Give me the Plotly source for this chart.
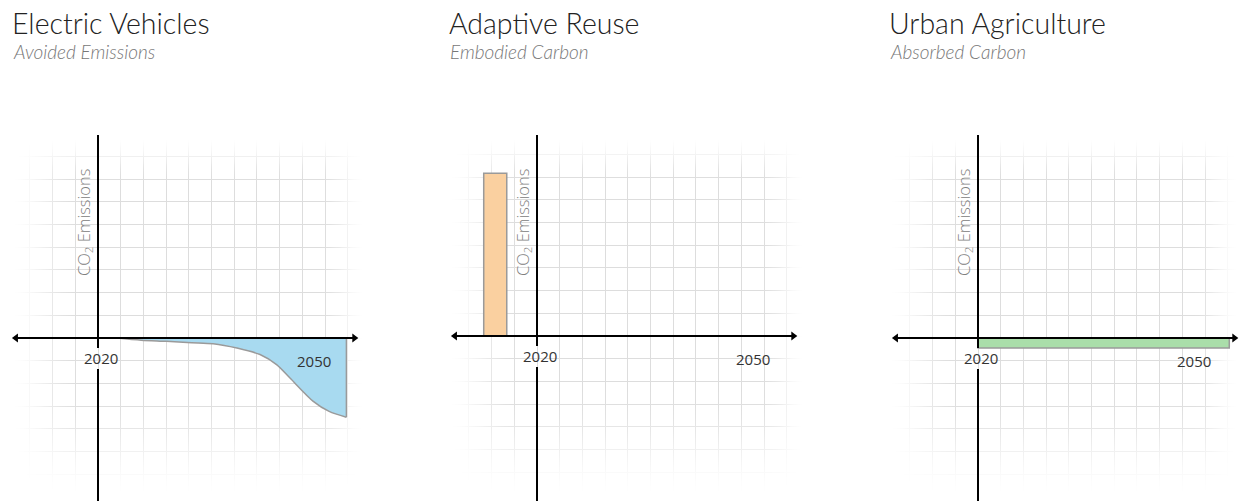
import numpy as np
import plotly.graph_objects as go

W, H = 1239, 501

# ---------------- data ----------------
titles = ["Electric Vehicles", "Adaptive Reuse", "Urban Agriculture"]
subtitles = ["Avoided Emissions", "Embodied Carbon", "Absorbed Carbon"]
y_label = "CO<sub>2</sub> Emissions"
tick_years = [2020, 2050]

# Electric Vehicles: avoided emissions (negative = below baseline)
ev_years = [2022.6, 2026.0, 2029.5, 2033.0, 2036.0, 2039.3, 2042.5, 2044.8, 2046.7, 2049.9, 2052.1, 2054.5]
ev_values = [0.0, -0.3, -0.46, -0.65, -0.8, -1.4, -2.3, -3.7, -5.6, -8.8, -10.2, -11.0]

# Adaptive Reuse: embodied carbon (one block before 2020)
ar_start = [2012.6]
ar_end = [2015.8]
ar_values = [22.6]

# Urban Agriculture: absorbed carbon (thin strip below axis)
ua_start = [2020.0]
ua_end = [2054.9]
ua_values = [-1.4]

# ---------------- styling / geometry ----------------
FONT = "Open Sans"
TFONT = "Lato"
S = 7.2                      # px per unit
GRID_STEP = 22.7 / S
panels = [
    dict(ox=98, oy=338, L=8, R=366),
    dict(ox=537, oy=336, L=445, R=806),
    dict(ox=978, oy=338, L=885, R=1239),
]
TOP, BOT = 135, 501
ARROW_L, ARROW_R = 2008.6, 2055.6

fill_blue = "rgb(168,218,240)"
fill_orange = "rgb(250,208,160)"
fill_green = "rgb(170,222,170)"
edge_gray = "#9a9a9a"

fig = go.Figure()
layout = dict(width=W, height=H, margin=dict(l=0, r=0, t=0, b=0),
              paper_bgcolor="white", plot_bgcolor="white", showlegend=False)
annotations = []
shapes = []


def xv(p, px):
    return 2020 + (px - p["ox"]) / S


def yv(p, py):
    return (p["oy"] - py) / S


for i, p in enumerate(panels):
    k = "" if i == 0 else str(i + 1)
    xa, ya = "x" + k, "y" + k
    xr = [xv(p, p["L"]), xv(p, p["R"])]
    yr = [yv(p, BOT), yv(p, TOP)]
    layout["xaxis" + k] = dict(domain=[p["L"] / W, p["R"] / W], range=xr, anchor=ya,
                               showticklabels=False, ticks="", zeroline=False,
                               showgrid=True, gridcolor="#d8d8d8", gridwidth=1,
                               tick0=2020, dtick=GRID_STEP, fixedrange=True, showline=False)
    layout["yaxis" + k] = dict(domain=[(H - BOT) / H, (H - TOP) / H], range=yr, anchor=xa,
                               showticklabels=False, ticks="", zeroline=False,
                               showgrid=True, gridcolor="#d8d8d8", gridwidth=1,
                               tick0=0, dtick=GRID_STEP, fixedrange=True, showline=False)

    # vignette mask that fades the grid towards the panel edges
    gx = np.linspace(xr[0], xr[1], 80)
    gy = np.linspace(yr[0], yr[1], 80)
    pxs = p["ox"] + (gx - 2020) * S
    pys = p["oy"] - gy * S
    dl = np.clip((pxs - p["L"]) / 70, 0, 1)
    dr = np.clip((p["R"] - pxs) / 45, 0, 1)
    dt = np.clip((pys - TOP) / 45, 0, 1)
    db = np.clip((BOT - pys) / 110, 0, 1)
    fx = np.minimum(dl, dr)
    fy = np.minimum(dt, db)
    fx = fx * fx * (3 - 2 * fx)
    fy = fy * fy * (3 - 2 * fy)
    z = 1 - np.outer(fy, fx) * 0.85
    fig.add_trace(go.Heatmap(x=gx, y=gy, z=z, xaxis=xa, yaxis=ya, zmin=0, zmax=1,
                             colorscale=[[0, "rgba(255,255,255,0)"], [1, "rgba(255,255,255,1)"]],
                             showscale=False, zsmooth="best", hoverinfo="skip"))

    # title and subtitle
    annotations.append(dict(xref="paper", yref="paper", x=(p["L"] + 3) / W, y=1 - 4.5 / H,
                            xanchor="left", yanchor="top", showarrow=False, borderpad=0,
                            text=titles[i],
                            font=dict(family=TFONT, size=28.5, color="#222222", weight=300)))
    annotations.append(dict(xref="paper", yref="paper", x=(p["L"] + 4) / W, y=1 - 38.5 / H,
                            xanchor="left", yanchor="top", showarrow=False, borderpad=0,
                            text=subtitles[i],
                            font=dict(family=TFONT, size=19, color="#777777", weight=300,
                                      style="italic")))

    # horizontal axis line
    shapes.append(dict(type="line", xref=xa, yref=ya, x0=ARROW_L, x1=ARROW_R, y0=0, y1=0,
                       line=dict(color="black", width=2)))
    # vertical axis (with a gap behind the 2020 label)
    shapes.append(dict(type="line", xref=xa, yref=ya, x0=2020, x1=2020, y0=yr[1], y1=yv(p, p["oy"] + 10),
                       line=dict(color="black", width=2)))
    shapes.append(dict(type="line", xref=xa, yref=ya, x0=2020, x1=2020, y0=yv(p, p["oy"] + 31), y1=yr[0],
                       line=dict(color="black", width=2)))

    # year labels
    annotations.append(dict(xref=xa, yref=ya, x=tick_years[0] + 0.45, y=yv(p, p["oy"] + 20),
                            text=str(tick_years[0]), showarrow=False,
                            font=dict(family=FONT, size=15, color="#333333")))
    annotations.append(dict(xref=xa, yref=ya, x=tick_years[1], y=yv(p, p["oy"] + 23),
                            text=str(tick_years[1]), showarrow=False,
                            font=dict(family=FONT, size=15, color="#333333")))
    # y label
    annotations.append(dict(xref=xa, yref=ya, x=xv(p, p["ox"] - 14), y=yv(p, 223),
                            text=y_label, textangle=-90, showarrow=False,
                            font=dict(family=FONT, size=16.5, color="#808080", weight=300)))

# Electric vehicles area
fig.add_trace(go.Scatter(x=ev_years, y=ev_values, mode="lines", fill="tozeroy",
                         fillcolor=fill_blue, xaxis="x", yaxis="y",
                         line=dict(color=edge_gray, width=1.5, shape="spline", smoothing=0.8),
                         hoverinfo="skip"))
fig.add_trace(go.Scatter(x=[ev_years[-1], ev_years[-1]], y=[ev_values[-1], 0], mode="lines",
                         xaxis="x", yaxis="y", line=dict(color=edge_gray, width=1.5),
                         hoverinfo="skip"))

# Adaptive reuse block
fig.add_trace(go.Bar(x=[(a + b) / 2 for a, b in zip(ar_start, ar_end)],
                     width=[b - a for a, b in zip(ar_start, ar_end)], y=ar_values,
                     xaxis="x2", yaxis="y2", marker=dict(color=fill_orange,
                                                        line=dict(color=edge_gray, width=1.5)),
                     hoverinfo="skip"))

# Urban agriculture strip
fig.add_trace(go.Bar(x=[(a + b) / 2 for a, b in zip(ua_start, ua_end)],
                     width=[b - a for a, b in zip(ua_start, ua_end)], y=ua_values,
                     xaxis="x3", yaxis="y3", marker=dict(color=fill_green,
                                                        line=dict(color=edge_gray, width=1.5)),
                     hoverinfo="skip"))

# arrowheads at both ends of each horizontal axis
for i in range(3):
    k = "" if i == 0 else str(i + 1)
    fig.add_trace(go.Scatter(x=[ARROW_L, ARROW_R], y=[0, 0], mode="markers",
                             xaxis="x" + k, yaxis="y" + k, cliponaxis=False,
                             marker=dict(symbol=["triangle-left", "triangle-right"], size=8,
                                         color="black", line=dict(width=0)),
                             hoverinfo="skip"))

layout["annotations"] = annotations
layout["shapes"] = shapes
fig.update_layout(**layout)
fig.write_html("out.html", config={"displayModeBar": False},
               post_script="document.body.style.margin='0';")
